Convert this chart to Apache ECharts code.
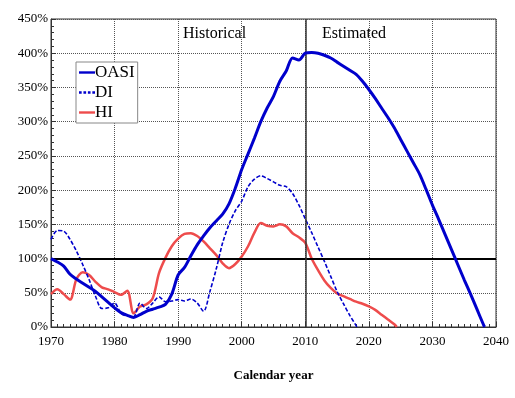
<!DOCTYPE html>
<html><head><meta charset="utf-8">
<script src="https://cdn.jsdelivr.net/npm/echarts@6/dist/echarts.min.js"></script>
<style>html,body{margin:0;padding:0;background:#fff}#c{width:515px;height:398px}</style>
</head><body><div id="c"></div>
<script>
const oasiYears = [1970,1971,1972,1973,1974,1975,1976,1977,1978,1979,1980,1981,1982,1983,1984,1985,1986,1987,1988,1989,1990,1991,1992,1993,1994,1995,1996,1997,1998,1999,2000,2001,2002,2003,2004,2005,2006,2007,2008,2009,2010,2011,2012,2013,2014,2015,2016,2017,2018,2019,2020,2021,2022,2023,2024,2025,2026,2027,2028,2029,2030,2031,2032,2033,2034,2035,2036,2037,2038,2038.2];
const oasiValues = [100,95,89,77,70,64,58,52,44,36,28,21,17,14,18,23,26,29,33,48,76,87,104,120,133,145,155,165,180,203,230,253,276,300,320,337,359,374,393,390,400,401,400,397,393,387,381,375,369,359,347,334,320,306,291,274,257,240,223,201,178,157,135,113,91,69,48,26,4,0];
const diYears = [1970,1971,1972,1973,1974,1975,1976,1977,1978,1979,1980,1981,1982,1983,1984,1985,1986,1987,1988,1989,1990,1991,1992,1993,1994,1995,1996,1997,1998,1999,2000,2001,2002,2003,2004,2005,2006,2007,2008,2009,2010,2011,2012,2013,2014,2015,2016,2017,2018,2018.1];
const diValues = [128,141,140,128,111,91,69,45,27,28,35,20,16,15,35,27,35,44,37,38,40,38,41,35,23,52,85,123,150,170,184,205,216,221,217,212,207,205,195,178,158,138,117,96,74,52,34,17,2,0];
const hiYears = [1970,1971,1972,1973,1974,1975,1976,1977,1978,1979,1980,1981,1982,1983,1984,1985,1986,1987,1988,1989,1990,1991,1992,1993,1994,1995,1996,1997,1998,1999,2000,2001,2002,2003,2004,2005,2006,2007,2008,2009,2010,2011,2012,2013,2014,2015,2016,2017,2018,2019,2020,2021,2022,2023,2024,2024.4];
const hiValues = [48,55,48,40,70,80,76,66,58,55,51,47,53,20,30,33,42,79,101,118,129,136,137,133,125,115,105,93,86,92,103,118,138,152,148,147,150,147,137,131,123,100,83,68,57,49,45,41,37,34,30,25,18,11,4,0];
const xTicks = [1970,1980,1990,2000,2010,2020,2030,2040];
const yTicks = [0,50,100,150,200,250,300,350,400,450];
const trustLevel = 100;
const splitYear = 2010;
const seriesNames = ['OASI','DI','HI'];
const periodLabels = ['Historical','Estimated'];

const zip = (xs, ys) => xs.map((x,i)=>[x, ys[i]]);
const F = 'Liberation Serif';
const BLUE = '#0000cc', RED = '#ee4c4c';
const solidIcon = 'path://M0,0h20v3h-20z';
const dashIcon = 'path://M0,0h3v3h-3z M5,0h3v3h-3z M10,0h3v3h-3z M15,0h3v3h-3z';
const chart = echarts.init(document.getElementById('c'));
chart.setOption({
  animation:false,
  grid:{left:51,right:19,top:19,bottom:71,show:true,borderColor:'#333',borderWidth:1},
  legend:{
    left:76, top:62, orient:'vertical', itemGap:3, itemWidth:16, itemHeight:3,
    padding:[2,3,2,3], borderColor:'#888', borderWidth:1, backgroundColor:'#fff',
    textStyle:{fontFamily:F,fontSize:17,color:'#000',padding:[0,0,0,-5]},
    data:[
      {name:seriesNames[0],icon:solidIcon,itemStyle:{color:BLUE}},
      {name:seriesNames[1],icon:dashIcon,itemStyle:{color:BLUE}},
      {name:seriesNames[2],icon:solidIcon,itemStyle:{color:RED}}
    ]
  },
  xAxis:{
    type:'value', min:xTicks[0], max:xTicks[xTicks.length-1], interval:10,
    name:'Calendar year', nameLocation:'middle', nameGap:42,
    nameTextStyle:{fontFamily:F,fontSize:13,fontWeight:'bold',color:'#000'},
    axisLine:{lineStyle:{color:'#333',width:1}},
    axisTick:{inside:true,length:5,lineStyle:{color:'#333'}},
    minorTick:{show:true,splitNumber:10,length:3,lineStyle:{color:'#333'}},
    axisLabel:{fontFamily:F,fontSize:13,color:'#000',margin:8,formatter:v=>String(v)},
    splitLine:{show:true,lineStyle:{color:'#555',type:[1,1],width:1}}
  },
  yAxis:{
    type:'value', min:yTicks[0], max:yTicks[yTicks.length-1], interval:50,
    axisLine:{show:true,lineStyle:{color:'#333',width:1}},
    axisTick:{show:true,inside:true,length:5,lineStyle:{color:'#333'}},
    minorTick:{show:true,splitNumber:5,length:3,lineStyle:{color:'#333'}},
    axisLabel:{fontFamily:F,fontSize:13,color:'#000',margin:3,formatter:'{value}%'},
    splitLine:{show:true,lineStyle:{color:'#555',type:[1,1],width:1}}
  },
  graphic:[
    {type:'text',left:183,top:26,style:{text:periodLabels[0],font:'16px "Liberation Serif"',fill:'#000'}},
    {type:'text',left:322,top:26,style:{text:periodLabels[1],font:'16px "Liberation Serif"',fill:'#000'}}
  ],
  series:[
    {name:seriesNames[0],type:'line',data:zip(oasiYears,oasiValues),smooth:0.3,symbol:'none',
     lineStyle:{color:BLUE,width:3},itemStyle:{color:BLUE},z:5,
     markLine:{silent:true,symbol:'none',label:{show:false},animation:false,
       data:[{yAxis:trustLevel,lineStyle:{color:'#000',width:2.2,type:'solid'}},
             {xAxis:splitYear,lineStyle:{color:'#333',width:1.5,type:'solid'}}]}},
    {name:seriesNames[1],type:'line',data:zip(diYears,diValues),smooth:0.3,symbol:'none',
     lineStyle:{color:BLUE,width:1.6,type:[4,2]},itemStyle:{color:BLUE},z:4},
    {name:seriesNames[2],type:'line',data:zip(hiYears,hiValues),smooth:0.3,symbol:'none',
     lineStyle:{color:RED,width:2.5},itemStyle:{color:RED},z:3}
  ]
});
</script></body></html>
